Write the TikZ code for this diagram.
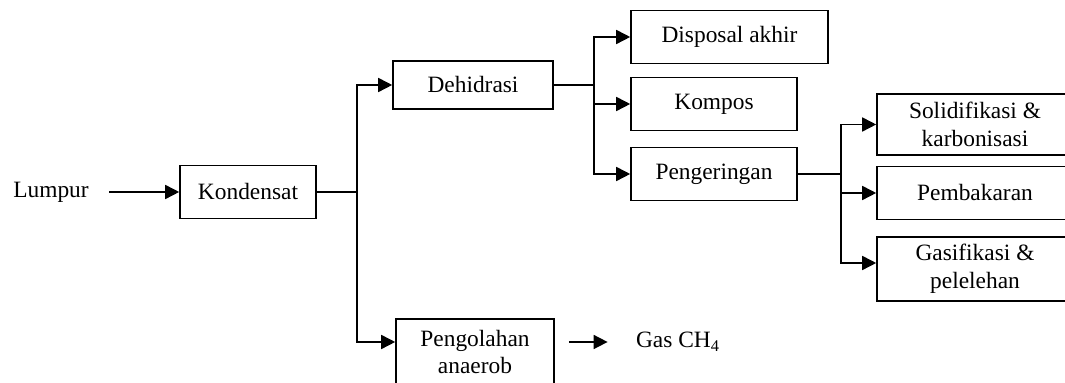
\documentclass[tikz,border=0pt]{standalone}
\usepackage{fontspec}
\setmainfont{Liberation Serif}
\usetikzlibrary{arrows.meta}
\tikzset{
    every node/.style={font=\fontsize{11.7}{13.8}\selectfont, inner sep=0mm},
    box/.style={rectangle, draw, line width=0.8pt, minimum height=26.5pt, align=center},
    arr/.style={-{Triangle[length=7pt, width=7pt]}, line width=0.8pt},
    ln/.style={line width=0.8pt}
}

\begin{document}
\begin{tikzpicture}[x=0.5pt, y=-0.5pt]
    \useasboundingbox (0,0) rectangle (1065,383);

    \node (lum) at (51, 192) {Lumpur};
    \node (kon) [box, minimum width=68pt] at (248, 192) {Kondensat};
    \node (deh) [box, minimum width=80pt, minimum height=24pt] at (473, 85) {Dehidrasi};
    \node (dis) [box, minimum width=98.5pt] at (729.5, 37) {Disposal akhir};
    \node (kom) [box, minimum width=83pt] at (714, 104) {Kompos};
    \node (pen) [box, minimum width=83pt] at (714, 174) {Pengeringan};
    \node (sol) [box, minimum width=98pt, minimum height=30.5pt] at (975, 124.5) {Solidifikasi \&\\karbonisasi};
    \node (bak) [box, minimum width=98pt] at (975, 193) {Pembakaran};
    \node (gas) [box, minimum width=98pt, minimum height=32pt] at (975, 269) {Gasifikasi \&\\pelelehan};
    \node (ana) [box, minimum width=79pt, minimum height=33pt] at (475, 352) {Pengolahan\\anaerob};
    \node (ch4) at (678, 342) {Gas CH\textsubscript{4}};

    \coordinate (j1) at (357, 192);
    \coordinate (j2) at (594, 85);
    \coordinate (j3) at (841, 174);

    \draw[arr, shorten <=10pt] (lum) -- (kon);
    \draw[ln] (kon) -- (j1);
    \draw[arr] (j1) |- (deh);
    \draw[arr] (j1) |- ([yshift=5pt]ana.west);
    \draw[ln] (deh) -- (j2);
    \draw[arr] (j2) |- (dis);
    \draw[arr] (j2) |- (kom);
    \draw[arr] (j2) |- (pen);
    \draw[ln] (pen) -- (j3);
    \draw[arr] (j3) |- (sol);
    \draw[arr] (j3) |- (bak);
    \draw[arr] (j3) |- ([yshift=3pt]gas.west);
    \draw[arr, shorten <=7pt, shorten >=14pt] ([yshift=5pt]ana.east) -- (ch4);
\end{tikzpicture}
\end{document}
